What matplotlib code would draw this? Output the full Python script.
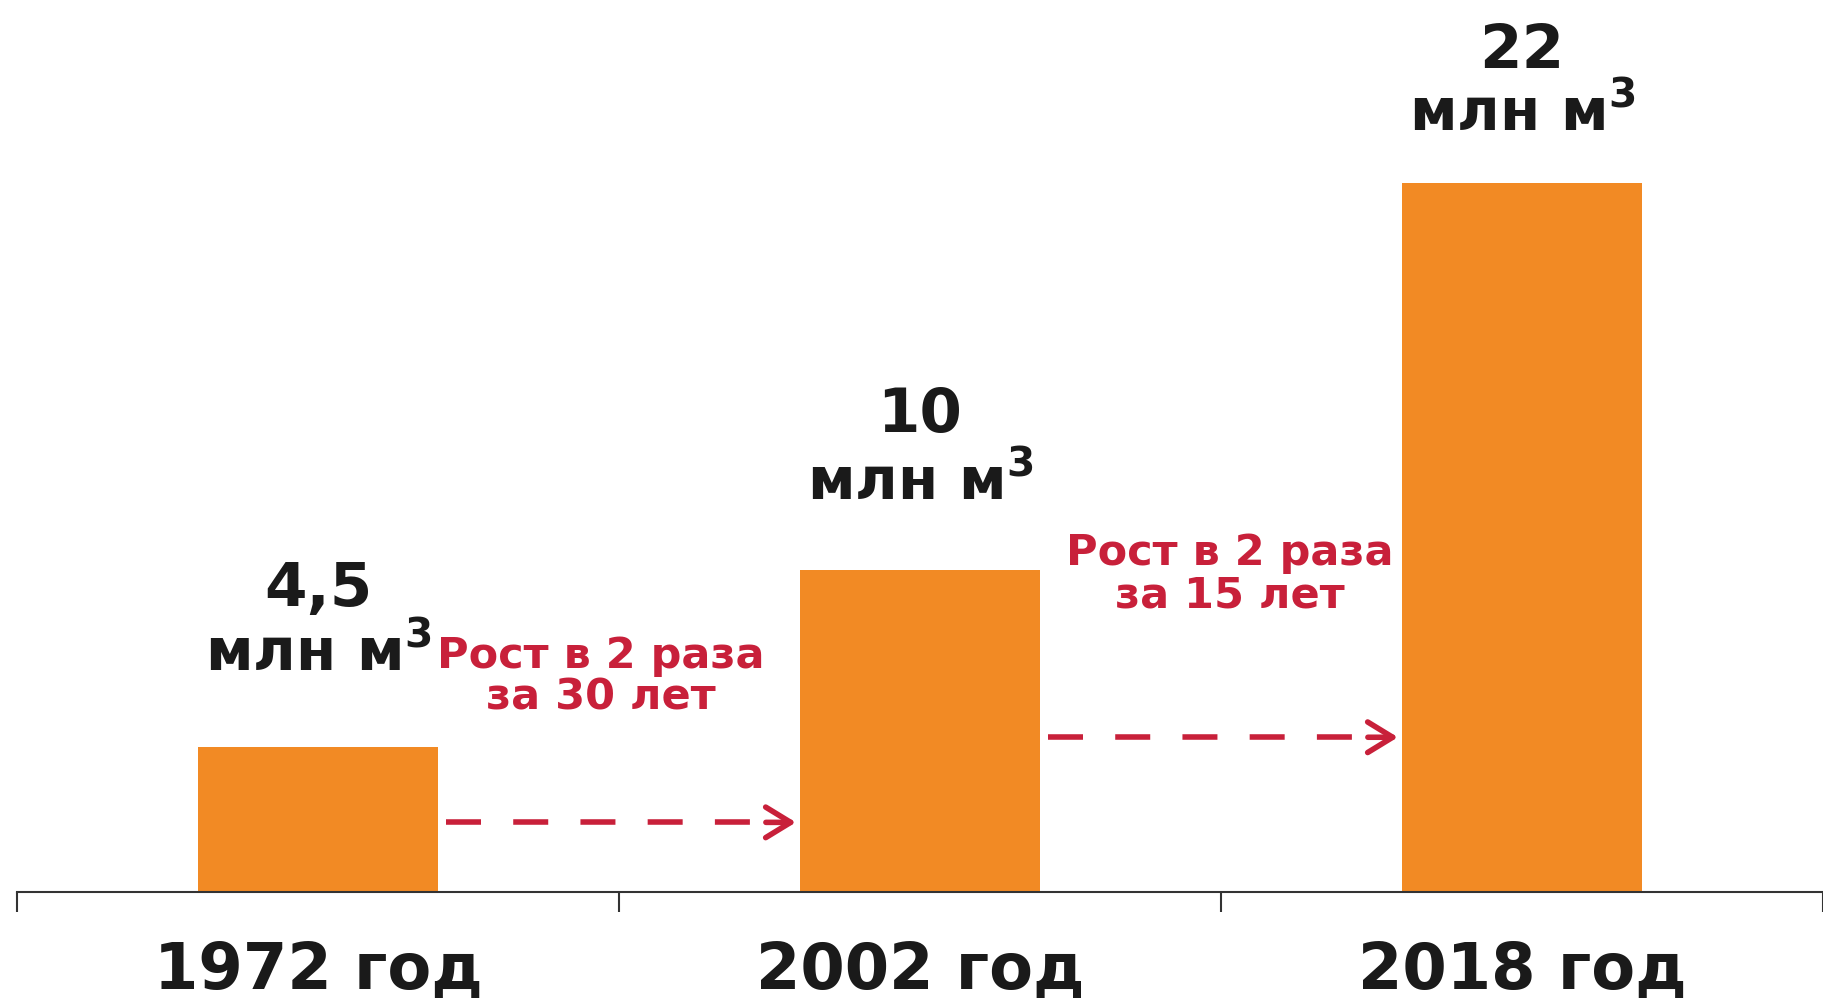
import matplotlib.pyplot as plt

# данные
years = ['1972 год', '2002 год', '2018 год']
volumes = [4.5, 10, 22]
value_labels = ['4,5', '10', '22']
unit_label = r'млн м$^\mathbf{3}$'
growth_notes = ['Рост в 2 раза\nза 30 лет', 'Рост в 2 раза\nза 15 лет']

ORANGE = '#F28A24'
RED = '#C8203A'
INK = '#1a1a1a'
AXIS = '#333333'

plt.rcParams['font.family'] = ['DejaVu Sans']

fig = plt.figure(figsize=(18.24, 10.04), dpi=100)
ax = fig.add_axes([17 / 1824, 111 / 1004, 1806 / 1824, 893 / 1004])

x = list(range(len(years)))
bar_w = 0.4
ax.bar(x, volumes, width=bar_w, color=ORANGE, zorder=2)

# подписи над столбиками (последний упирается в верх, отступ чуть меньше)
num_off = [4.4, 4.3, 3.6]
unit_off = [2.4, 2.2, 1.65]
for xi, v, lab, n_off, u_off in zip(x, volumes, value_labels, num_off, unit_off):
    ax.text(xi, v + n_off, lab, ha='center', va='baseline',
            fontsize=44, fontweight='bold', color=INK)
    ax.text(xi, v + u_off, unit_label, ha='center', va='baseline',
            fontsize=42, fontweight='bold', color=INK)

# пунктирные стрелки роста между столбиками
note_x = [0.47, 1.515]
note_y = [5.68, 8.87]
for i, note in enumerate(growth_notes):
    y = volumes[i] * 0.48
    x0 = x[i] + bar_w / 2 + 0.013
    x1 = x[i + 1] - bar_w / 2 - 0.006
    ax.plot([x0, x1 - 0.01], [y, y], color=RED, lw=4,
            linestyle=(0, (6.3, 5.8)), solid_capstyle='butt', dash_capstyle='butt', zorder=3)
    ax.annotate('', xy=(x1, y), xytext=(x1 - 0.05, y),
                arrowprops=dict(arrowstyle='->,head_length=0.9,head_width=0.55',
                                mutation_scale=20, lw=4, color=RED,
                                shrinkA=0, shrinkB=0), zorder=3)
    ax.text(note_x[i], note_y[i], note, ha='center', va='baseline',
            fontsize=31, fontweight='bold', color=RED, linespacing=1.0)

ax.set_xlim(-0.5, 2.5)
ax.set_ylim(0, 27.7)

ax.set_xticks([-0.5, 0.5, 1.5, 2.5])
ax.set_xticklabels([])
ax.set_xticks(x, labels=years, minor=True, fontsize=46, fontweight='bold', color=INK)
ax.tick_params(axis='x', which='major', direction='out', length=14.4, width=1.5, color=AXIS)
ax.tick_params(axis='x', which='minor', length=0, pad=34)
ax.set_yticks([])

for side in ['left', 'top', 'right']:
    ax.spines[side].set_visible(False)
ax.spines['bottom'].set_linewidth(1.5)
ax.spines['bottom'].set_color(AXIS)

fig.savefig('out.png', dpi=100)
